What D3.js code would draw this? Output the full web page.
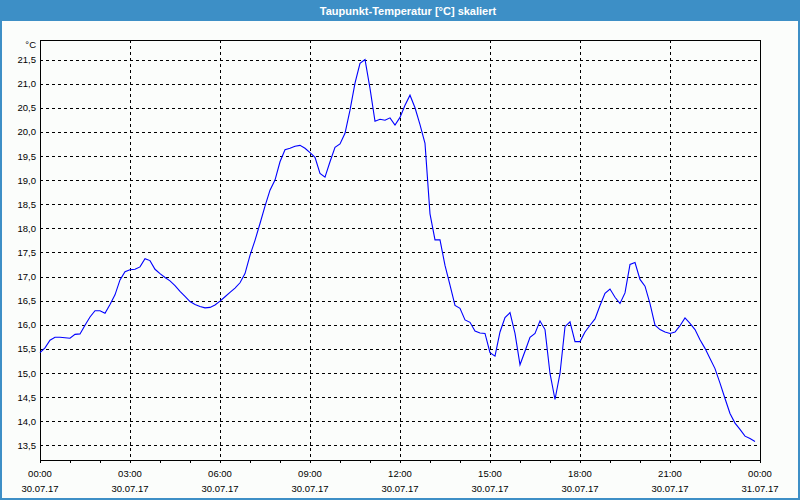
<!DOCTYPE html>
<html>
<head>
<meta charset="utf-8">
<script src="https://cdn.jsdelivr.net/npm/d3@7"></script>
<style>
  html, body { margin: 0; padding: 0; background: #fbfdfb; }
  svg { display: block; }
  text { font-family: "Liberation Sans", Arial, sans-serif; }
</style>
</head>
<body>
<svg id="chart" width="800" height="500"></svg>
<script>
// ---- data ----
const title = "Taupunkt-Temperatur [°C] skaliert";
const unitLabel = "°C";
const startTime = "2017-07-30T00:00:00";
const stepMinutes = 10;
// dew point values every 10 minutes, 00:00 .. 23:50
const values = [
  15.42, 15.52, 15.68, 15.74, 15.74, 15.73, 15.72, 15.80, 15.81, 15.99, 16.16, 16.29,
  16.29, 16.24, 16.42, 16.62, 16.93, 17.10, 17.14, 17.15, 17.20, 17.37, 17.33, 17.15,
  17.06, 16.98, 16.91, 16.81, 16.69, 16.59, 16.48, 16.42, 16.38, 16.35, 16.36, 16.41,
  16.49, 16.58, 16.67, 16.76, 16.87, 17.06, 17.44, 17.75, 18.10, 18.46, 18.79, 19.00,
  19.38, 19.63, 19.66, 19.70, 19.72, 19.66, 19.57, 19.47, 19.14, 19.06, 19.38, 19.68,
  19.75, 19.97, 20.45, 21.01, 21.42, 21.50, 20.90, 20.22, 20.26, 20.24, 20.29, 20.14,
  20.30, 20.55, 20.76, 20.50, 20.15, 19.76, 18.30, 17.76, 17.76, 17.23, 16.82, 16.40,
  16.34, 16.10, 16.05, 15.87, 15.83, 15.82, 15.42, 15.35, 15.85, 16.15, 16.25, 15.82,
  15.17, 15.45, 15.74, 15.82, 16.08, 15.90, 14.99, 14.45, 14.99, 15.96, 16.06, 15.65,
  15.65, 15.85, 15.99, 16.12, 16.40, 16.65, 16.74, 16.57, 16.44, 16.66, 17.25, 17.29,
  16.94, 16.80, 16.44, 15.99, 15.90, 15.85, 15.82, 15.85, 15.98, 16.14, 16.03, 15.90,
  15.69, 15.51, 15.30, 15.09, 14.79, 14.47, 14.16, 13.96, 13.83, 13.69, 13.64, 13.58
];
const yTicks = [13.5, 14.0, 14.5, 15.0, 15.5, 16.0, 16.5, 17.0, 17.5, 18.0, 18.5, 19.0, 19.5, 20.0, 20.5, 21.0, 21.5];
const xDomain = ["2017-07-30T00:00:00", "2017-07-31T00:00:00"];
const yDomain = [13.195, 21.905];

// ---- layout ----
const W = 800, H = 500;
const plot = { left: 40, top: 40, right: 760, bottom: 460 };
const blue = "#3d8fc6";

const svg = d3.select("#chart");
const parse = d3.timeParse("%Y-%m-%dT%H:%M:%S");
const t0 = parse(startTime);
const data = values.map((v, i) => ({ t: d3.timeMinute.offset(t0, i * stepMinutes), v }));

const x = d3.scaleTime().domain(xDomain.map(parse)).range([plot.left, plot.right]);
const y = d3.scaleLinear().domain(yDomain).range([plot.bottom, plot.top]);

// background + frame
svg.append("rect").attr("x", 0).attr("y", 0).attr("width", W).attr("height", H).attr("fill", "#fbfdfb");
svg.append("rect").attr("x", 0).attr("y", 0).attr("width", W).attr("height", 21).attr("fill", blue);
svg.append("rect").attr("x", 1).attr("y", 1).attr("width", W - 2).attr("height", H - 2)
  .attr("fill", "none").attr("stroke", blue).attr("stroke-width", 2);

svg.append("text").attr("x", 408).attr("y", 14.5).attr("text-anchor", "middle")
  .attr("fill", "#ffffff").attr("font-size", "11px").attr("font-weight", "bold").text(title);

// grid
const gridG = svg.append("g").attr("shape-rendering", "crispEdges");
gridG.selectAll("line.h").data(yTicks).join("line")
  .attr("x1", plot.left).attr("x2", plot.right)
  .attr("y1", d => Math.round(y(d)) + 0.5).attr("y2", d => Math.round(y(d)) + 0.5)
  .attr("stroke", "#000").attr("stroke-dasharray", "3,3");
const majorTimes = d3.timeHour.every(3).range(x.domain()[0], x.domain()[1]).slice(1);
gridG.selectAll("line.v").data(majorTimes).join("line")
  .attr("x1", d => Math.round(x(d)) + 0.5).attr("x2", d => Math.round(x(d)) + 0.5)
  .attr("y1", plot.top).attr("y2", plot.bottom)
  .attr("stroke", "#000").attr("stroke-dasharray", "3,3");

// y axis labels
const fmt = d => d3.format(".1f")(d).replace(".", ",");
const yAxis = d3.axisLeft(y).tickValues(yTicks).tickSize(0).tickPadding(4).tickFormat(fmt);
const yg = svg.append("g").attr("transform", `translate(${plot.left},0)`).call(yAxis);
yg.select(".domain").remove();
yg.selectAll("text").attr("font-size", "9.5px").attr("fill", "#000").attr("font-family", "Liberation Sans, Arial, sans-serif");
svg.append("text").attr("x", 36).attr("y", 48).attr("text-anchor", "end")
  .attr("font-size", "9.5px").attr("fill", "#000").text(unitLabel);

// x axis: hourly minor ticks, 3h labels
const xAxisMinor = d3.axisBottom(x).ticks(d3.timeHour.every(1)).tickSize(3).tickFormat("");
const xg = svg.append("g").attr("transform", `translate(0,${plot.bottom})`).attr("shape-rendering", "crispEdges").call(xAxisMinor);
xg.select(".domain").remove();
xg.selectAll("line").attr("stroke", "#000");

const labelTimes = d3.timeHour.every(3).range(x.domain()[0], d3.timeMinute.offset(x.domain()[1], 1));
const fTime = d3.timeFormat("%H:%M"), fDate = d3.timeFormat("%d.%m.%y");
const lg = svg.append("g");
lg.selectAll("text.t").data(labelTimes).join("text")
  .attr("x", d => x(d)).attr("y", 477).attr("text-anchor", "middle")
  .attr("font-size", "9.5px").attr("fill", "#000").text(d => fTime(d));
lg.selectAll("text.d").data(labelTimes).join("text")
  .attr("x", d => x(d)).attr("y", 492).attr("text-anchor", "middle")
  .attr("font-size", "9.5px").attr("fill", "#000").text(d => fDate(d));

// plot border
svg.append("rect").attr("x", plot.left + 0.5).attr("y", plot.top + 0.5)
  .attr("width", plot.right - plot.left).attr("height", plot.bottom - plot.top)
  .attr("fill", "none").attr("stroke", "#000").attr("shape-rendering", "crispEdges");

// line
const line = d3.line().x(d => x(d.t)).y(d => y(d.v));
svg.append("path").datum(data).attr("d", line)
  .attr("fill", "none").attr("stroke", "#0000ff").attr("stroke-width", 1.1);
</script>
</body>
</html>
